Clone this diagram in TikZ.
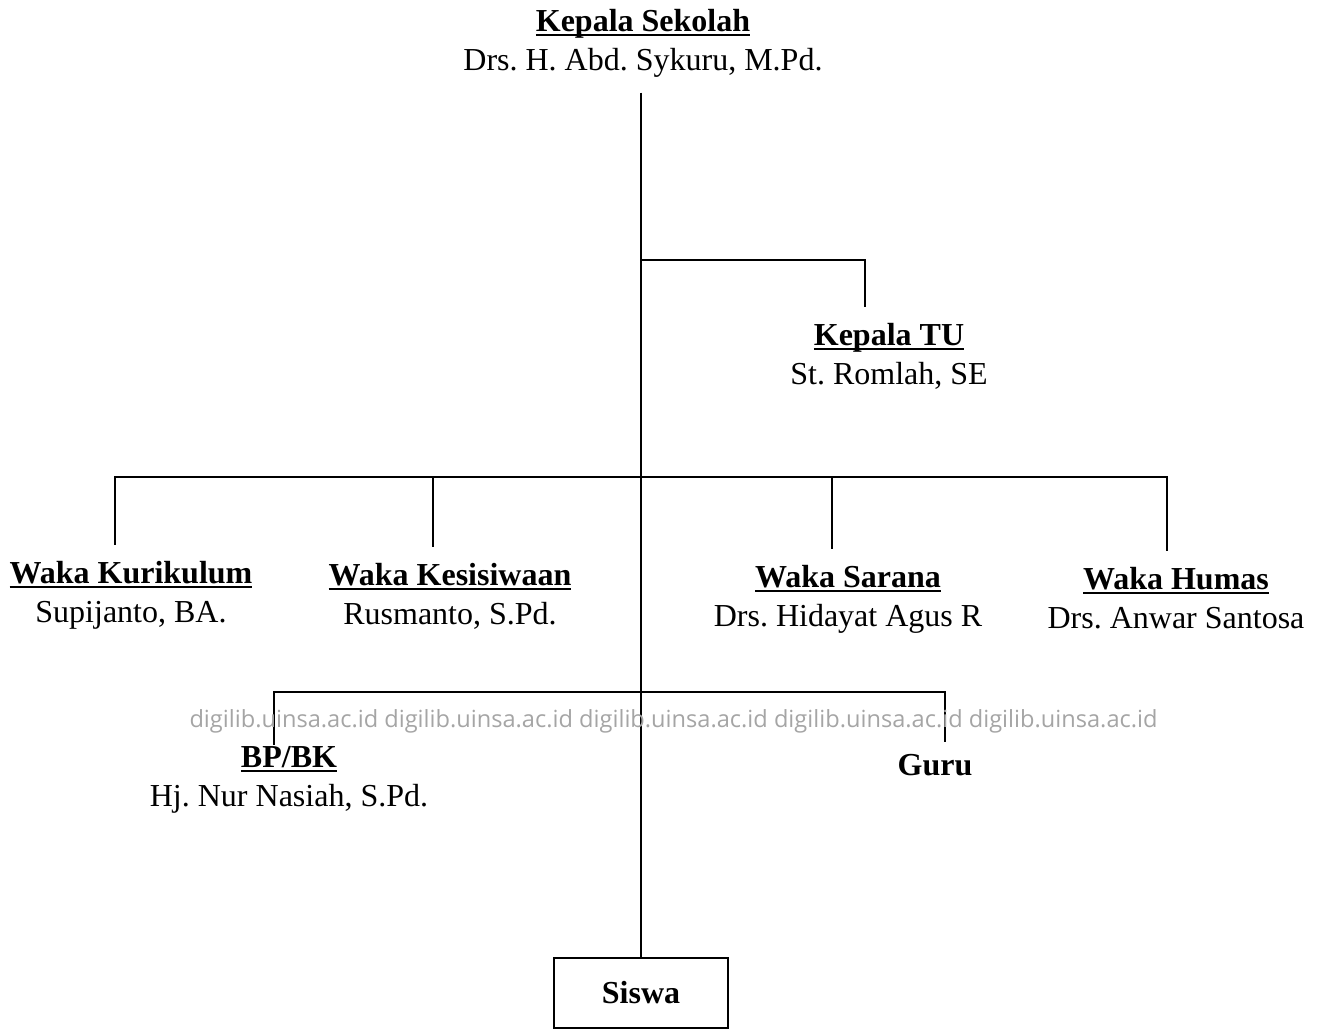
\documentclass[tikz,border=0pt]{standalone}
\usepackage{fontspec}
\setmainfont{Liberation Serif}
\newfontfamily\wmfont{Open Sans}
\definecolor{wmgray}{RGB}{165,165,165}
\frenchspacing
\newlength\jabw
\newcommand\jab[1]{\settowidth\jabw{\textbf{#1}}\textbf{#1}\llap{\rule[-5pt]{\jabw}{2.6pt}}}

\begin{document}
\begin{tikzpicture}[x=1pt,y=-1pt,
    unit/.style={align=center,inner sep=0pt,anchor=north,font=\fontsize{32}{39}\selectfont},
    link/.style={line width=2.6pt},
    box/.style={draw,line width=2.4pt,minimum width=174pt,minimum height=70pt,inner sep=0pt,font=\fontsize{32}{39}\selectfont\bfseries},
    wm/.style={text=wmgray,inner sep=0pt,font=\wmfont\fontsize{23.6}{28}\selectfont}]
  \useasboundingbox (0,0) rectangle (1321,1030);
  \node[unit] (ks) at (643,9) {\jab{Kepala Sekolah}\\Drs. H. Abd. Sykuru, M.Pd.};
  \node[unit] (tu) at (889,323) {\jab{Kepala TU}\\St. Romlah, SE};
  \node[unit] (wk1) at (131,561) {\jab{Waka Kurikulum}\\Supijanto, BA.};
  \node[unit] (wk2) at (450,563) {\jab{Waka Kesisiwaan}\\Rusmanto, S.Pd.};
  \node[unit] (wk3) at (848,565) {\jab{Waka Sarana}\\Drs. Hidayat Agus R};
  \node[unit] (wk4) at (1176,567) {\jab{Waka Humas}\\Drs. Anwar Santosa};
  \node[unit] (bk) at (289,746) {\jab{BP/BK}\\Hj. Nur Nasiah, S.Pd.};
  \node[unit] (guru) at (935,754) {\textbf{Guru}};
  \node[box] (siswa) at (641,993) {Siswa};
  \coordinate (j1) at (641,260);
  \coordinate (j2) at (641,477);
  \coordinate (j3) at (641,692);
  \draw[link,shorten <=15pt] (ks.south -| siswa.north) -- (siswa.north);
  \draw[link,shorten >=16pt] (j1) -| ([xshift=-24pt]tu.north);
  \foreach \n/\dx in {wk1/-16,wk2/-17,wk3/-16,wk4/-9}
    \draw[link,shorten >=16pt] (j2) -| ([xshift=\dx pt]\n.north);
  \draw[link,shorten >=1pt] (j3) -| ([xshift=-15pt]bk.north);
  \draw[link,shorten >=12pt] (j3) -| ([xshift=10pt]guru.north);
  \node[wm] (wm) at (673.5,721) {digilib.uinsa.ac.id digilib.uinsa.ac.id digilib.uinsa.ac.id digilib.uinsa.ac.id digilib.uinsa.ac.id};
\end{tikzpicture}
\end{document}
